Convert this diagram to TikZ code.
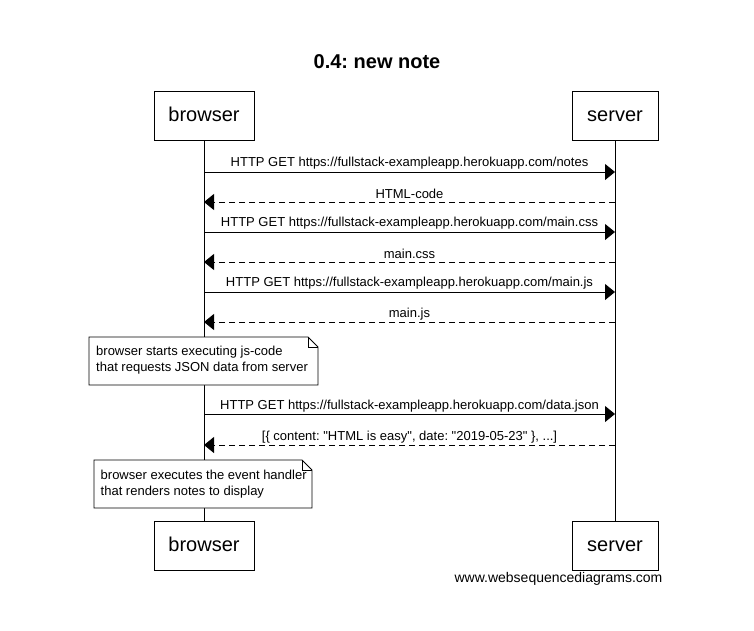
\documentclass[tikz,border=0pt]{standalone}
\usepackage{fontspec}
\setmainfont{Liberation Sans}
\usetikzlibrary{arrows.meta}
\frenchspacing
\begin{document}
\begin{tikzpicture}[x=1pt,y=-1pt,
  actor/.style={draw,line width=0.9pt,minimum width=100pt,minimum height=49pt,inner sep=0pt,text height=15pt,text depth=4pt,font=\fontsize{20}{24}\selectfont},
  lifeline/.style={line width=0.9pt},
  req/.style={line width=0.9pt,-{Triangle[length=10pt,width=16pt]}},
  resp/.style={line width=0.9pt,dash pattern=on 6pt off 4pt,-{Triangle[length=10pt,width=16pt]}},
  lbl/.style={font=\fontsize{13}{15}\selectfont,inner sep=0pt},
  notetext/.style={font=\fontsize{13}{16}\selectfont,align=left,inner sep=0pt,anchor=north west},
  note/.style={draw,line width=0.9pt,fill=white}
]
\useasboundingbox (0,0) rectangle (754,630);
\fill[white] (0,0) rectangle (754,630);

\node[font=\bfseries\fontsize{20}{24}\selectfont] (title) at (377,62) {0.4: new note};

\node[actor] (bt) at (204,115.5) {browser};
\node[actor,minimum width=86pt] (st) at (615,115.5) {server};
\node[actor] (bb) at (204,545.5) {browser};
\node[actor,minimum width=86pt] (sb) at (615,545.5) {server};

\draw[lifeline] (bt.south) -- (bb.north);
\draw[lifeline] (st.south) -- (sb.north);

% message coordinates
\foreach \n/\y in {1/172,2/202,3/232,4/262,5/292,6/322,7/414,8/445}{
  \coordinate (b\n) at (204,\y);
  \coordinate (s\n) at (615,\y);
}

\draw[req] (b1) -- node[lbl,above=2.5pt] (m1) {HTTP GET https://fullstack-exampleapp.herokuapp.com/notes} (s1);
\draw[resp] (s2) -- node[lbl,above=2pt,fill=white,inner ysep=0.5pt] (m2) {HTML-code} (b2);
\draw[req] (b3) -- node[lbl,above=2.5pt] (m3) {HTTP GET https://fullstack-exampleapp.herokuapp.com/main.css} (s3);
\draw[resp] (s4) -- node[lbl,above=2pt,fill=white,inner ysep=0.5pt] (m4) {main.css} (b4);
\draw[req] (b5) -- node[lbl,above=2pt] (m5) {HTTP GET https://fullstack-exampleapp.herokuapp.com/main.js} (s5);
\draw[resp] (s6) -- node[lbl,above=1pt,fill=white,inner ysep=0.5pt] (m6) {main.js} (b6);
\draw[req] (b7) -- node[lbl,above=1.5pt] (m7) {HTTP GET https://fullstack-exampleapp.herokuapp.com/data.json} (s7);
\draw[resp] (s8) -- node[lbl,above=1pt,fill=white,inner ysep=0.5pt] (m8) {[\{ content: \textquotedbl HTML is easy\textquotedbl, date: \textquotedbl 2019-05-23\textquotedbl\ \}, ...]} (b8);

% note 1
\draw[note] (89,337) -- (308,337) -- (318,347) -- (318,385) -- (89,385) -- cycle;
\draw[line width=0.9pt] (308,337) -- (308,347) -- (318,347);
\node[notetext] (n1) at (96,346) {browser starts executing js-code\\that requests JSON data from server};

% note 2
\draw[note] (94,460) -- (302,460) -- (312,470) -- (312,508) -- (94,508) -- cycle;
\draw[line width=0.9pt] (302,460) -- (302,470) -- (312,470);
\node[notetext] (n2) at (100.5,470) {browser executes the event handler\\that renders notes to display};

\node[font=\fontsize{14}{16}\selectfont,inner sep=0pt] (foot) at (558.5,579) {www.websequencediagrams.com};
\end{tikzpicture}
\end{document}
